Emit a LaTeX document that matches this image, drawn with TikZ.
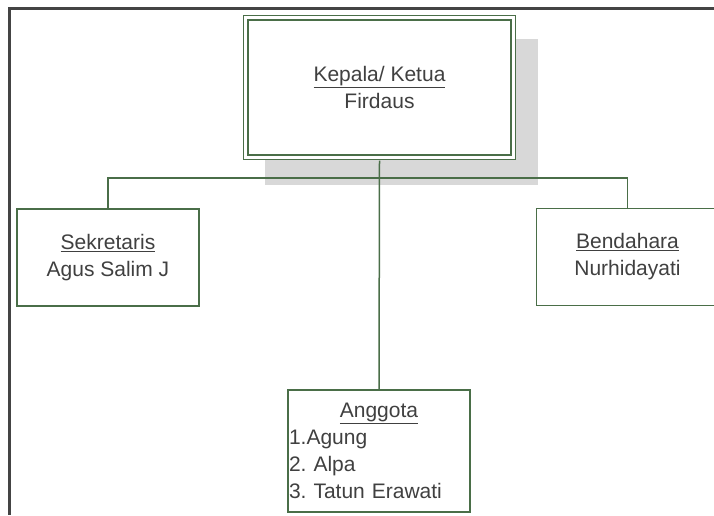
\documentclass[tikz,border=0pt]{standalone}
\usepackage{fontspec}
\setmainfont{Liberation Sans}
\definecolor{boxgreen}{HTML}{4A6E48}
\definecolor{txtgray}{HTML}{404040}
\definecolor{framegray}{HTML}{444444}
\definecolor{shadowgray}{HTML}{D8D8D8}
\begin{document}
\frenchspacing
\begin{tikzpicture}[x=1pt,y=-1pt,
  every node/.style={font=\fontsize{21}{27}\selectfont\frenchspacing, text=txtgray},
  orgbox/.style={draw=boxgreen, line width=1.5pt, fill=white, align=center, inner sep=0pt},
  headbox/.style={orgbox, double=white, double distance=3pt, line width=1.3pt,
     minimum width=267.5pt, minimum height=139.5pt},
  sidebox/.style={orgbox, minimum width=182pt, minimum height=97pt},
  link/.style={draw=boxgreen, line width=1.5pt},
  frameline/.style={draw=framegray, line width=2.5pt}]
\clip (0,0) rectangle (714,515);
\fill[white] (0,0) rectangle (714,515);
% frame
\draw[frameline] (9.5,8.5) -- (714,8.5);
\draw[frameline] (9.5,7.3) -- (9.5,515);
% shadow of head box
\fill[shadowgray] (265,39) rectangle (538,185);
% nodes
\node[headbox] (head) at (379.5,87.5) {\underline{Kepala/ Ketua}\\Firdaus};
\node[sidebox] (sek) at (108,257.5) {\underline{Sekretaris}\\Agus Salim J};
\node[sidebox] (ben) at (627.5,257) {\underline{Bendahara}\\Nurhidayati};
\node[orgbox, minimum height=122pt, text width=180pt, inner xsep=1pt, align=left] (ang) at (379,451)
  {\centering\underline{Anggota}\par\raggedright 1.Agung\\2. Alpa\\3. Tatun Erawati};
% connectors
\coordinate (bar) at (379.5,178);
\draw[link] (sek.north) |- (bar) -| (ben.north);
\draw[link] ([yshift=-2.8pt]head.south) -- (ang.north);
\end{tikzpicture}
\end{document}
